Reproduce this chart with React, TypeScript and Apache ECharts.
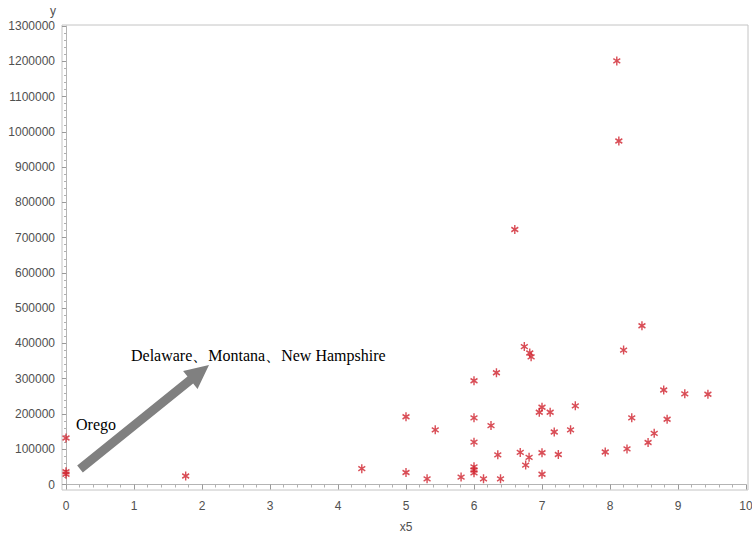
import React, { useEffect, useRef } from "react";
import * as echarts from "echarts";

// x5 and y values for each state
const x5Values: number[] = [
  0, 0, 0, 1.76, 4.35, 5.0, 5.0, 5.31, 5.43, 5.81,
  6.0, 6.0, 6.0, 6.0, 6.0, 6.0, 6.14, 6.25, 6.33, 6.35,
  6.39, 6.6, 6.68, 6.74, 6.76, 6.81, 6.82, 6.84, 6.96, 7.0,
  7.0, 7.0, 7.12, 7.18, 7.24, 7.42, 7.49, 7.93, 8.1, 8.13,
  8.2, 8.25, 8.32, 8.47, 8.56, 8.65, 8.79, 8.84, 9.1, 9.44,
];
const yValues: number[] = [
  132000, 29000, 36000, 24000, 45000, 192000, 34000, 16000, 155000, 21000,
  294000, 189000, 120000, 50000, 41000, 33000, 16000, 167000, 317000, 84000,
  16000, 723000, 91000, 391000, 55000, 77000, 373000, 362000, 205000, 219000,
  90000, 29000, 205000, 149000, 85000, 155000, 223000, 92000, 1201000, 974000,
  381000, 101000, 189000, 450000, 119000, 145000, 268000, 185000, 257000, 256000,
];

const xTicks = { min: 0, max: 10, interval: 1 };
const yTicks = { min: 0, max: 1300000, interval: 100000 };

const annotationMain = "Delaware、Montana、New Hampshire";
const annotationSmall = "Orego";

const asterisk =
  "path://M0,-5L0,5M-4.33,-2.5L4.33,2.5M-4.33,2.5L4.33,-2.5";

function arrowPoints(
  tail: [number, number],
  tip: [number, number],
  shaftHalf: number,
  headHalf: number,
  headLen: number
): number[][] {
  const dx = tip[0] - tail[0];
  const dy = tip[1] - tail[1];
  const len = Math.sqrt(dx * dx + dy * dy);
  const ux = dx / len;
  const uy = dy / len;
  const px = -uy;
  const py = ux;
  const bx = tip[0] - ux * headLen;
  const by = tip[1] - uy * headLen;
  return [
    [tail[0] + px * shaftHalf, tail[1] + py * shaftHalf],
    [bx + px * shaftHalf, by + py * shaftHalf],
    [bx + px * headHalf, by + py * headHalf],
    [tip[0], tip[1]],
    [bx - px * headHalf, by - py * headHalf],
    [bx - px * shaftHalf, by - py * shaftHalf],
    [tail[0] - px * shaftHalf, tail[1] - py * shaftHalf],
  ];
}

export default function App() {
  const ref = useRef<HTMLDivElement>(null);

  useEffect(() => {
    document.body.style.margin = "0";
    if (!ref.current) return;
    const chart = echarts.init(ref.current, undefined, { renderer: "svg" });

    const data = x5Values.map((x, i) => [x, yValues[i]]);
    const labelColor = "#505050";
    const lineColor = "#b4b4b4";
    const font = "Liberation Sans, Arial, sans-serif";

    chart.setOption({
      animation: false,
      backgroundColor: "#ffffff",
      grid: {
        left: 66,
        right: 6,
        top: 26,
        bottom: 50.5,
        containLabel: false,
        outerBoundsMode: "none",
      },
      xAxis: {
        type: "value",
        min: xTicks.min,
        max: xTicks.max,
        interval: xTicks.interval,
        offset: 5.5,
        name: "x5",
        nameLocation: "middle",
        nameGap: 31,
        nameTextStyle: { color: labelColor, fontSize: 12, fontFamily: font },
        axisLine: { show: true, lineStyle: { color: lineColor, width: 1 } },
        axisTick: { show: true, length: 5, lineStyle: { color: "#9a9a9a" } },
        minorTick: { show: true, splitNumber: 5, length: 3, lineStyle: { color: "#b0b0b0" } },
        axisLabel: { color: labelColor, fontSize: 12, margin: 10, fontFamily: font },
        splitLine: { show: false },
      },
      yAxis: {
        type: "value",
        min: yTicks.min,
        max: yTicks.max,
        interval: yTicks.interval,
        offset: 4,
        name: "y",
        nameLocation: "end",
        nameGap: 9,
        nameTextStyle: {
          color: labelColor,
          fontSize: 12,
          align: "right",
          padding: [0, 10, 0, 0],
          fontFamily: font,
        },
        axisLine: { show: true, lineStyle: { color: lineColor, width: 1 } },
        axisTick: { show: true, length: 4, lineStyle: { color: "#9a9a9a" } },
        minorTick: { show: true, splitNumber: 5, length: 2, lineStyle: { color: "#b0b0b0" } },
        axisLabel: {
          color: labelColor,
          fontSize: 12,
          margin: 7,
          fontFamily: font,
          formatter: (v: number) => String(v),
        },
        splitLine: { show: false },
      },
      series: [
        {
          type: "scatter",
          data,
          symbol: asterisk,
          symbolSize: [8, 9],
          symbolKeepAspect: true,
          itemStyle: {
            color: "rgba(0,0,0,0)",
            borderColor: "#d0202c",
            borderWidth: 1.5,
          },
          z: 5,
        },
      ],
      graphic: [
        {
          type: "rect",
          z: 0,
          silent: true,
          shape: { x: 62, y: 25, width: 686, height: 465 },
          style: { fill: "none", stroke: "#c4c4c4", lineWidth: 1 },
        },
        {
          type: "polygon",
          z: 10,
          silent: true,
          shape: { points: arrowPoints([80, 469], [209, 365], 4.5, 11.5, 24) },
          style: { fill: "#808080" },
        },
        {
          type: "text",
          z: 10,
          left: 131,
          top: 347,
          style: {
            text: annotationMain,
            fill: "#000000",
            fontSize: 16,
            fontFamily: "Liberation Serif, Times New Roman, serif",
          },
        },
        {
          type: "text",
          z: 10,
          left: 76,
          top: 416,
          style: {
            text: annotationSmall,
            fill: "#000000",
            fontSize: 16,
            fontFamily: "Liberation Serif, Times New Roman, serif",
          },
        },
      ],
    });

    return () => {
      chart.dispose();
    };
  }, []);

  return (
    <div
      ref={ref}
      style={{ position: "absolute", left: 0, top: 0, width: 752, height: 535 }}
    />
  );
}
